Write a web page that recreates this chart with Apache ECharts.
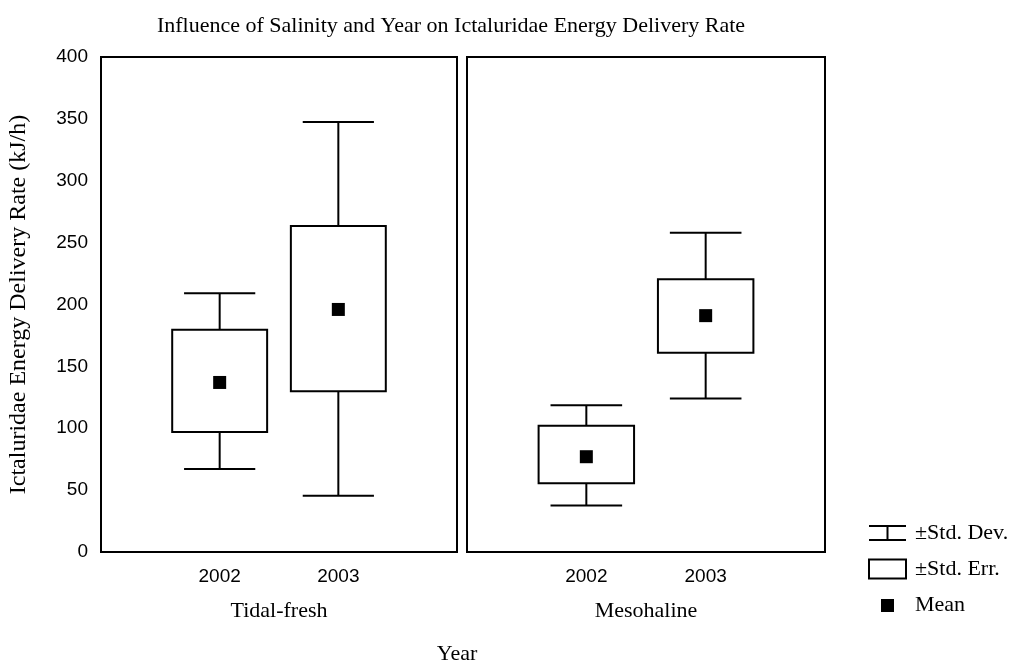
<!doctype html>
<html>
<head>
<meta charset="utf-8">
<script src="https://cdn.jsdelivr.net/npm/echarts@6/dist/echarts.min.js"></script>
<style>
  html, body { margin: 0; padding: 0; background: #fff; }
  #chart { width: 1016px; height: 664px; }
</style>
</head>
<body>
<div id="chart"></div>
<script>
  // values, one row per salinity zone, columns = years
  const years = ['2002', '2003'];
  const sites = ['Tidal-fresh', 'Mesohaline'];
  const yTicks = [0, 50, 100, 150, 200, 250, 300, 350, 400];
  const meanVals = [[137, 196], [77, 191]];
  const seLow = [[97, 130], [55.5, 161]];
  const seHigh = [[179.5, 263.5], [102, 220.5]];
  const sdLow = [[67, 45.5], [37.5, 124]];
  const sdHigh = [[209, 347.5], [118.5, 258]];

  const SERIF = 'Liberation Serif';
  const SANS = 'Liberation Sans';
  const BOX_HALF = 0.4;
  const CAP_HALF = 0.3;

  const chart = echarts.init(document.getElementById('chart'));

  function whisker(params, api) {
    const x = api.value(0);
    const lo = api.value(1), hi = api.value(2);
    const top = api.coord([x, hi]);
    const bot = api.coord([x, lo]);
    const capL = api.coord([x - CAP_HALF, hi])[0];
    const capR = api.coord([x + CAP_HALF, hi])[0];
    const st = { stroke: '#000', lineWidth: 2 };
    return {
      type: 'group',
      children: [
        { type: 'line', shape: { x1: top[0], y1: top[1], x2: bot[0], y2: bot[1] }, style: st },
        { type: 'line', shape: { x1: capL, y1: top[1], x2: capR, y2: top[1] }, style: st },
        { type: 'line', shape: { x1: capL, y1: bot[1], x2: capR, y2: bot[1] }, style: st }
      ]
    };
  }

  function box(params, api) {
    const x = api.value(0);
    const p1 = api.coord([x - BOX_HALF, api.value(2)]);
    const p2 = api.coord([x + BOX_HALF, api.value(1)]);
    return {
      type: 'rect',
      shape: { x: p1[0], y: p1[1], width: p2[0] - p1[0], height: p2[1] - p1[1] },
      style: { fill: '#fff', stroke: '#000', lineWidth: 2 }
    };
  }

  const grids = [
    { left: 101, top: 57, width: 356, height: 495 },
    { left: 467, top: 57, width: 358, height: 495 }
  ].map((g) => Object.assign(g, { show: true, borderColor: '#000', borderWidth: 2 }));

  const xAxes = sites.map((s, i) => ({
    type: 'value',
    gridIndex: i,
    min: 0,
    max: 3,
    interval: 1,
    name: s,
    nameLocation: 'middle',
    nameGap: 48,
    nameTextStyle: { fontFamily: SERIF, fontSize: 22, color: '#000' },
    axisLine: { show: false },
    axisTick: { show: false },
    splitLine: { show: false },
    axisLabel: {
      margin: 15,
      fontFamily: SANS,
      fontSize: 19,
      color: '#000',
      formatter: (v) => years[v - 1] || ''
    }
  }));

  const yAxes = sites.map((s, i) => ({
    type: 'value',
    gridIndex: i,
    min: yTicks[0],
    max: yTicks[yTicks.length - 1],
    interval: 50,
    name: i === 0 ? 'Ictaluridae Energy Delivery Rate (kJ/h)' : '',
    nameLocation: 'middle',
    nameGap: 70,
    nameTextStyle: { fontFamily: SERIF, fontSize: 24, color: '#000' },
    axisLine: { show: false },
    axisTick: { show: false },
    splitLine: { show: false },
    axisLabel: { show: i === 0, margin: 13, fontFamily: SANS, fontSize: 19, color: '#000' }
  }));

  const series = [];
  sites.forEach((s, i) => {
    series.push({
      name: '±Std. Dev.',
      type: 'custom',
      xAxisIndex: i,
      yAxisIndex: i,
      itemStyle: { color: '#000' },
      renderItem: whisker,
      data: years.map((y, j) => [j + 1, sdLow[i][j], sdHigh[i][j]])
    });
    series.push({
      name: '±Std. Err.',
      type: 'custom',
      xAxisIndex: i,
      yAxisIndex: i,
      itemStyle: { color: '#fff', borderColor: '#000', borderWidth: 2 },
      renderItem: box,
      data: years.map((y, j) => [j + 1, seLow[i][j], seHigh[i][j]])
    });
    series.push({
      name: 'Mean',
      type: 'scatter',
      xAxisIndex: i,
      yAxisIndex: i,
      symbol: 'rect',
      symbolSize: 13,
      itemStyle: { color: '#000', opacity: 1 },
      data: years.map((y, j) => [j + 1, meanVals[i][j]])
    });
  });

  chart.setOption({
    animation: false,
    backgroundColor: '#fff',
    title: [
      {
        text: 'Influence of Salinity and Year on Ictaluridae Energy Delivery Rate',
        left: 446,
        top: 10,
        textAlign: 'center',
        textStyle: { fontFamily: SERIF, fontSize: 22, fontWeight: 'normal', color: '#000' }
      },
      {
        text: 'Year',
        left: 452,
        top: 638,
        textAlign: 'center',
        textStyle: { fontFamily: SERIF, fontSize: 22, fontWeight: 'normal', color: '#000' }
      }
    ],
    legend: {
      orient: 'vertical',
      left: 863,
      top: 517,
      itemWidth: 37,
      itemHeight: 20,
      itemGap: 14,
      selectedMode: false,
      textStyle: { fontFamily: SERIF, fontSize: 22, lineHeight: 20, color: '#000', padding: [0, 0, 0, 4] },
      data: [
        {
          name: '±Std. Dev.',
          icon: 'path://M0,0M37,20M0,2H37V4H19.5V16H37V18H0V16H17.5V4H0Z',
          itemStyle: { color: '#000', borderWidth: 0 }
        },
        {
          name: '±Std. Err.',
          icon: 'path://M1,1H36V19H1Z',
          itemStyle: { color: '#fff', borderColor: '#000', borderWidth: 2 }
        },
        {
          name: 'Mean',
          icon: 'path://M0,0M37,20M12,4H25V17H12Z',
          itemStyle: { color: '#000', borderWidth: 0 }
        }
      ]
    },
    grid: grids,
    xAxis: xAxes,
    yAxis: yAxes,
    series: series
  });
</script>
</body>
</html>
